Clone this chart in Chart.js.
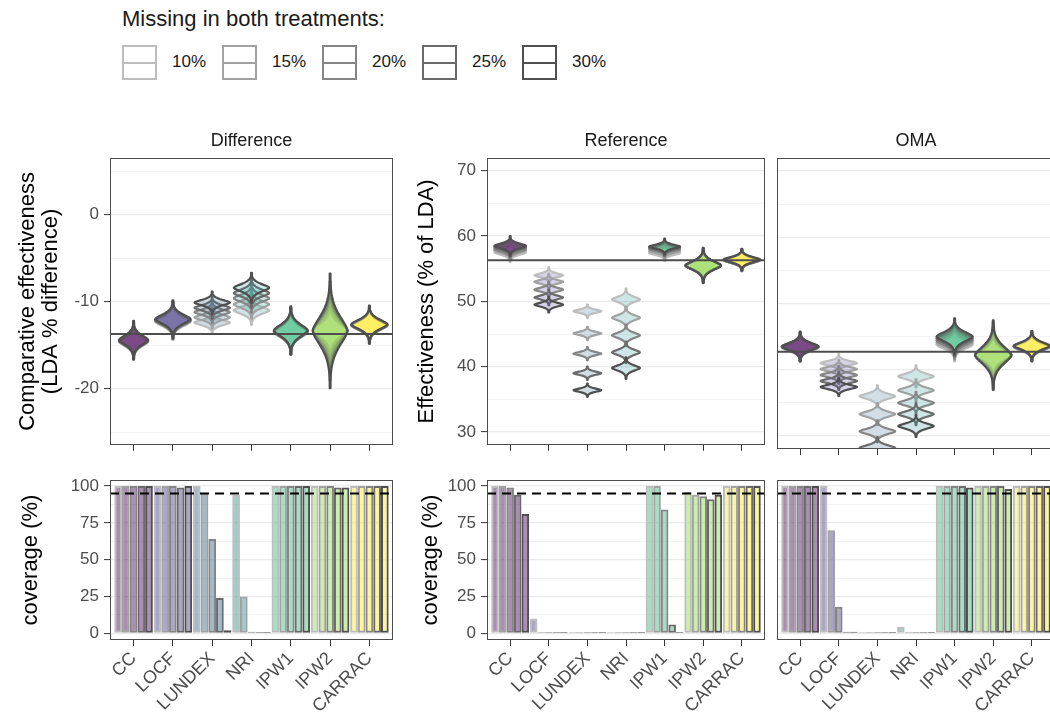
<!DOCTYPE html>
<html>
<head>
<meta charset="utf-8">
<script src="https://cdn.jsdelivr.net/npm/chart.js@4.4.0/dist/chart.umd.min.js"></script>
<style>
    html, body { margin: 0; padding: 0; background: #fff; }
    body { width: 1050px; height: 720px; overflow: hidden; position: relative;
           font-family: "Liberation Sans", Arial, sans-serif; }
    canvas { position: absolute; }
    .lg-title { position: absolute; left: 122px; top: 6px; font-size: 22px; line-height: 26px;
                color: #1a1a1a; white-space: nowrap; }
    .key { position: absolute; top: 45px; width: 35px; height: 35px; box-sizing: border-box;
           border: 2px solid currentColor; background: #fff; }
    .key::after { content: ""; position: absolute; left: 0; right: 0; top: 50%; margin-top: -1px;
                  height: 2px; background: currentColor; }
    .key-label { position: absolute; top: 51px; font-size: 17px; line-height: 22px; color: #1a1a1a; }
</style>
</head>
<body>
<div class="lg-title">Missing in both treatments:</div>
<div id="legend"></div>
<canvas id="diffTop"></canvas>
<canvas id="refTop"></canvas>
<canvas id="omaTop"></canvas>
<canvas id="diffCov"></canvas>
<canvas id="refCov"></canvas>
<canvas id="omaCov"></canvas>

<script>
/* ---------- DATA ---------- */
const methods = ["CC", "LOCF", "LUNDEX", "NRI", "IPW1", "IPW2", "CARRAC"];
const missingLevels = ["10%", "15%", "20%", "25%", "30%"];
const methodColors = ["#440154", "#443A83", "#31688E", "#21908C", "#35B779", "#8FD744", "#FDE725"];
const levelGrays = ["#bdbdbd", "#a1a1a1", "#858585", "#6a6a6a", "#4f4f4f"];

// violin centres: one row per missing level (10% .. 30%), one column per method
const diffCentre = [
    [-14.6, -12.3, -12.4, -11.0, -13.5, -13.3, -12.75],
    [-14.55, -12.2, -11.8, -10.3, -13.45, -13.3, -12.7],
    [-14.5, -12.15, -11.2, -9.6, -13.4, -13.3, -12.7],
    [-14.45, -12.1, -10.7, -9.0, -13.35, -13.35, -12.65],
    [-14.4, -12.0, -10.1, -8.4, -13.3, -13.35, -12.6]
];
const diffSpread = [
    [0.7, 0.7, 0.42, 0.55, 0.85, 1.0, 0.7],
    [0.7, 0.7, 0.42, 0.55, 0.87, 1.3, 0.7],
    [0.72, 0.72, 0.42, 0.55, 0.9, 1.6, 0.72],
    [0.72, 0.72, 0.42, 0.55, 0.9, 1.9, 0.72],
    [0.73, 0.72, 0.42, 0.57, 0.92, 2.2, 0.72]
];
const diffWidth = [0.74, 0.9, 0.9, 0.9, 0.86, 0.88, 0.92];
const diffBaseline = -13.7;

const refCentre = [
    [57.5, 54.0, 48.5, 50.3, 57.4, 55.5, 56.3],
    [57.8, 53.0, 45.1, 47.5, 57.7, 55.5, 56.3],
    [58.0, 51.8, 42.0, 44.8, 58.0, 55.5, 56.3],
    [58.3, 50.6, 39.0, 42.2, 58.2, 55.5, 56.35],
    [58.5, 49.5, 36.4, 39.8, 58.4, 55.5, 56.4]
];
const refSpread = [
    [0.5, 0.4, 0.34, 0.55, 0.4, 0.8, 0.55],
    [0.5, 0.4, 0.34, 0.55, 0.4, 0.82, 0.55],
    [0.5, 0.4, 0.34, 0.55, 0.4, 0.85, 0.55],
    [0.5, 0.4, 0.34, 0.55, 0.4, 0.88, 0.55],
    [0.5, 0.4, 0.34, 0.55, 0.4, 0.9, 0.55]
];
const refWidth = [0.82, 0.74, 0.72, 0.72, 0.8, 0.92, 0.95];
const refBaseline = 56.3;

const omaCentre = [
    [43.3, 41.0, 36.0, 39.0, 43.8, 42.2, 43.4],
    [43.4, 40.1, 33.3, 36.9, 44.1, 42.2, 43.5],
    [43.5, 39.2, 30.7, 35.0, 44.4, 42.2, 43.5],
    [43.5, 38.3, 28.2, 33.3, 44.7, 42.2, 43.6],
    [43.5, 37.4, 25.8, 31.5, 45.0, 42.2, 43.6]
];
const omaSpread = [
    [0.7, 0.45, 0.55, 0.55, 0.85, 1.1, 0.72],
    [0.7, 0.45, 0.55, 0.55, 0.87, 1.3, 0.72],
    [0.72, 0.45, 0.55, 0.55, 0.9, 1.5, 0.75],
    [0.72, 0.45, 0.55, 0.55, 0.9, 1.65, 0.75],
    [0.75, 0.45, 0.55, 0.55, 0.92, 1.75, 0.75]
];
const omaWidth = [0.95, 0.94, 0.92, 0.92, 0.94, 0.94, 0.94];
const omaBaseline = 42.7;

// coverage (%): one row per missing level, one column per method
const diffCoverage = [
    [100, 100, 100, 94, 100, 100, 100],
    [100, 100, 95, 25, 100, 100, 100],
    [100, 100, 64, 1, 100, 100, 100],
    [100, 99, 24, 0.8, 100, 99, 100],
    [100, 100, 2, 0.8, 100, 99, 100]
];
const refCoverage = [
    [100, 10, 0.8, 0.8, 100, 96, 100],
    [100, 0.8, 0.8, 0.8, 100, 94, 100],
    [99, 0.8, 0.8, 0.8, 84, 93, 100],
    [94, 0.8, 0.8, 0.8, 6, 91, 100],
    [81, 0.8, 0.8, 0.8, 0.8, 94, 100]
];
const omaCoverage = [
    [100, 100, 0.8, 4.5, 100, 100, 100],
    [100, 70, 0.8, 0.8, 100, 100, 100],
    [100, 18, 0.8, 0.8, 100, 100, 100],
    [100, 1, 0.8, 0.8, 100, 100, 100],
    [100, 1, 0.8, 0.8, 99, 98, 100]
];
const coverageTarget = 95;

// axis ticks (grid lines) and the labelled subset
const diffTicks = [-25, -20, -15, -10, -5, 0, 5];
const diffLabelled = [-20, -10, 0];
const effTicks = [30, 35, 40, 45, 50, 55, 60, 65, 70];
const effLabelled = [30, 40, 50, 60, 70];
const coverageTicks = [0, 12.5, 25, 37.5, 50, 62.5, 75, 87.5, 100];
const coverageLabelled = [0, 25, 50, 75, 100];

/* ---------- HELPERS ---------- */
Chart.defaults.font.family = "'Liberation Sans', Arial, sans-serif";

function rgba(hex, a) {
    const n = parseInt(hex.slice(1), 16);
    return `rgba(${n >> 16},${(n >> 8) & 255},${n & 255},${a})`;
}

/* ---------- LEGEND ---------- */
const legendBox = document.getElementById("legend");
missingLevels.forEach((lvl, k) => {
    const key = document.createElement("div");
    key.className = "key";
    key.style.left = (122 + 100 * k) + "px";
    key.style.color = levelGrays[k];
    legendBox.appendChild(key);
    const lab = document.createElement("div");
    lab.className = "key-label";
    lab.style.left = (172 + 100 * k) + "px";
    lab.textContent = lvl;
    legendBox.appendChild(lab);
});

/* ---------- PANEL PLUGIN (violins, reference line, frame, strip) ---------- */
function drawViolins(chart, widths) {
    const { ctx, scales: { x, y } } = chart;
    const unit = x.getPixelForValue(1) - x.getPixelForValue(0);
    chart.data.datasets.forEach((ds, k) => {
        ds.data.forEach((pt, i) => {
            const s = ds.spread[i];
            const half = widths[i] * unit / 2;
            const cx = x.getPixelForValue(pt.x);
            const steps = 60;
            const right = [], left = [];
            for (let j = 0; j <= steps; j++) {
                const d = -3 * s + 6 * s * j / steps;
                // spinning-top outline: fat body, thin tails
                const w = Math.max(0.4, half * Math.exp(-Math.pow(Math.abs(d) / (1.1 * s), 1.6)));
                const py = y.getPixelForValue(pt.y + d);
                right.push([cx + w, py]);
                left.push([cx - w, py]);
            }
            ctx.beginPath();
            right.forEach(([px, py], j) => (j ? ctx.lineTo(px, py) : ctx.moveTo(px, py)));
            left.reverse().forEach(([px, py]) => ctx.lineTo(px, py));
            ctx.closePath();
            ctx.fillStyle = rgba(methodColors[i], 0.22);
            ctx.fill();
            ctx.lineWidth = 2.2;
            ctx.lineJoin = "round";
            ctx.strokeStyle = levelGrays[k];
            ctx.stroke();
        });
    });
}

const panelPlugin = {
    id: "panel",
    afterDatasetsDraw(chart, args, opts) {
        const { ctx, chartArea: a, scales: { y } } = chart;
        ctx.save();
        ctx.beginPath();
        ctx.rect(a.left, a.top, a.right - a.left, a.bottom - a.top);
        ctx.clip();
        if (opts.violinWidth) drawViolins(chart, opts.violinWidth);
        if (opts.line != null) {
            const py = y.getPixelForValue(opts.line);
            ctx.strokeStyle = opts.lineColor;
            ctx.lineWidth = 2;
            ctx.setLineDash(opts.dash || []);
            ctx.beginPath();
            ctx.moveTo(a.left, py);
            ctx.lineTo(a.right, py);
            ctx.stroke();
        }
        ctx.restore();

        ctx.save();
        ctx.strokeStyle = "#4d4d4d";
        ctx.lineWidth = 1;
        ctx.strokeRect(Math.round(a.left) + 0.5, Math.round(a.top) + 0.5,
            Math.round(a.right - a.left) - 1, Math.round(a.bottom - a.top) - 1);
        if (opts.strip) {
            ctx.fillStyle = "#1a1a1a";
            ctx.font = "18px 'Liberation Sans', Arial, sans-serif";
            ctx.textAlign = "center";
            ctx.textBaseline = "middle";
            ctx.fillText(opts.strip, (a.left + a.right) / 2, a.top - 17);
        }
        ctx.restore();
    }
};

/* ---------- AXES ---------- */
function yAxis(min, max, ticks, labelled, showLabels, width, title, titlePad) {
    return {
        type: "linear",
        min, max,
        afterBuildTicks: ax => { ax.ticks = ticks.map(v => ({ value: v })); },
        afterFit: ax => { ax.width = width; },
        ticks: {
            display: showLabels,
            autoSkip: false,
            callback: v => (labelled.includes(v) ? String(v) : ""),
            color: "#4d4d4d",
            font: { size: 17 },
            padding: 5
        },
        grid: {
            color: "#ebebeb",
            lineWidth: c => (labelled.includes(c.tick.value) ? 1.2 : 0.6),
            drawTicks: true,
            tickLength: 6,
            tickWidth: 1,
            tickColor: c => (showLabels && labelled.includes(c.tick.value) ? "#333333" : "rgba(0,0,0,0)")
        },
        border: { display: false },
        title: {
            display: !!title,
            text: title || "",
            color: "#000",
            font: { size: 22, lineHeight: 1.05 },
            padding: { top: titlePad || 0, bottom: 0 }
        }
    };
}

function xAxis(showLabels, height) {
    return {
        type: "linear",
        min: 0.4, max: 7.6,
        offset: false,
        afterBuildTicks: ax => { ax.ticks = methods.map((m, i) => ({ value: i + 1 })); },
        afterFit: ax => { ax.height = height; },
        ticks: {
            display: showLabels,
            autoSkip: false,
            minRotation: 45, maxRotation: 45,
            callback: v => methods[v - 1],
            color: "#4d4d4d",
            font: { size: 18 },
            padding: 2
        },
        grid: {
            offset: false,
            drawOnChartArea: false,
            drawTicks: true,
            tickLength: 6,
            tickWidth: 1,
            tickColor: "#333333"
        },
        border: { display: false }
    };
}

/* ---------- CHART BUILDERS ---------- */
function place(id, left, top, w, h) {
    const c = document.getElementById(id);
    c.width = w; c.height = h;
    c.style.left = left + "px"; c.style.top = top + "px";
    return c;
}

function violinPanel(id, left, w, padRight, centre, spread, widths, baseline, yCfg, strip) {
    const canvas = place(id, left, 130, w, 330);
    return new Chart(canvas, {
        type: "scatter",
        data: {
            datasets: missingLevels.map((lvl, k) => ({
                label: lvl,
                data: centre[k].map((v, i) => ({ x: i + 1, y: v })),
                spread: spread[k],
                pointRadius: 0,
                showLine: false
            }))
        },
        options: {
            responsive: false,
            animation: false,
            layout: { padding: { top: 28, right: padRight, bottom: 0, left: 0 } },
            plugins: {
                legend: { display: false },
                tooltip: { enabled: false },
                panel: { violinWidth: widths, line: baseline, lineColor: "#4d4d4d", strip }
            },
            scales: { x: xAxis(false, 11), y: yCfg }
        },
        plugins: [panelPlugin]
    });
}

function coveragePanel(id, left, w, padRight, coverage, yCfg) {
    const canvas = place(id, left, 460, w, 260);
    return new Chart(canvas, {
        type: "bar",
        data: {
            datasets: missingLevels.map((lvl, k) => ({
                label: lvl,
                data: coverage[k].map((v, i) => ({ x: i + 1, y: v })),
                backgroundColor: methodColors.map(c => rgba(c, 0.45)),
                borderColor: levelGrays[k],
                borderWidth: 2,
                borderSkipped: false,
                barPercentage: 1,
                categoryPercentage: 0.98
            }))
        },
        options: {
            responsive: false,
            animation: false,
            layout: { padding: { top: 20, right: padRight, bottom: 0, left: 0 } },
            plugins: {
                legend: { display: false },
                tooltip: { enabled: false },
                panel: { line: coverageTarget, lineColor: "#000", dash: [9, 6] }
            },
            scales: { x: xAxis(true, 80), y: yCfg }
        },
        plugins: [panelPlugin]
    });
}

/* ---------- DRAW ---------- */
violinPanel("diffTop", 0, 400, 7, diffCentre, diffSpread, diffWidth, diffBaseline,
    yAxis(-26.45, 6.53, diffTicks, diffLabelled, true, 110,
        ["Comparative effectiveness", "(LDA % difference)"], 16), "Difference");
violinPanel("refTop", 400, 370, 5, refCentre, refSpread, refWidth, refBaseline,
    yAxis(28.04, 71.96, effTicks, effLabelled, true, 87, "Effectiveness (% of LDA)", 15), "Reference");
violinPanel("omaTop", 770, 290, 5, omaCentre, omaSpread, omaWidth, omaBaseline,
    yAxis(28.04, 71.96, effTicks, effLabelled, false, 7), "OMA");

coveragePanel("diffCov", 0, 400, 7, diffCoverage,
    yAxis(-4.55, 104.1, coverageTicks, coverageLabelled, true, 110, "coverage (%)", 19));
coveragePanel("refCov", 400, 370, 5, refCoverage,
    yAxis(-4.55, 104.1, coverageTicks, coverageLabelled, true, 87, "coverage (%)", 19));
coveragePanel("omaCov", 770, 290, 5, omaCoverage,
    yAxis(-4.55, 104.1, coverageTicks, coverageLabelled, false, 7));
</script>
</body>
</html>
